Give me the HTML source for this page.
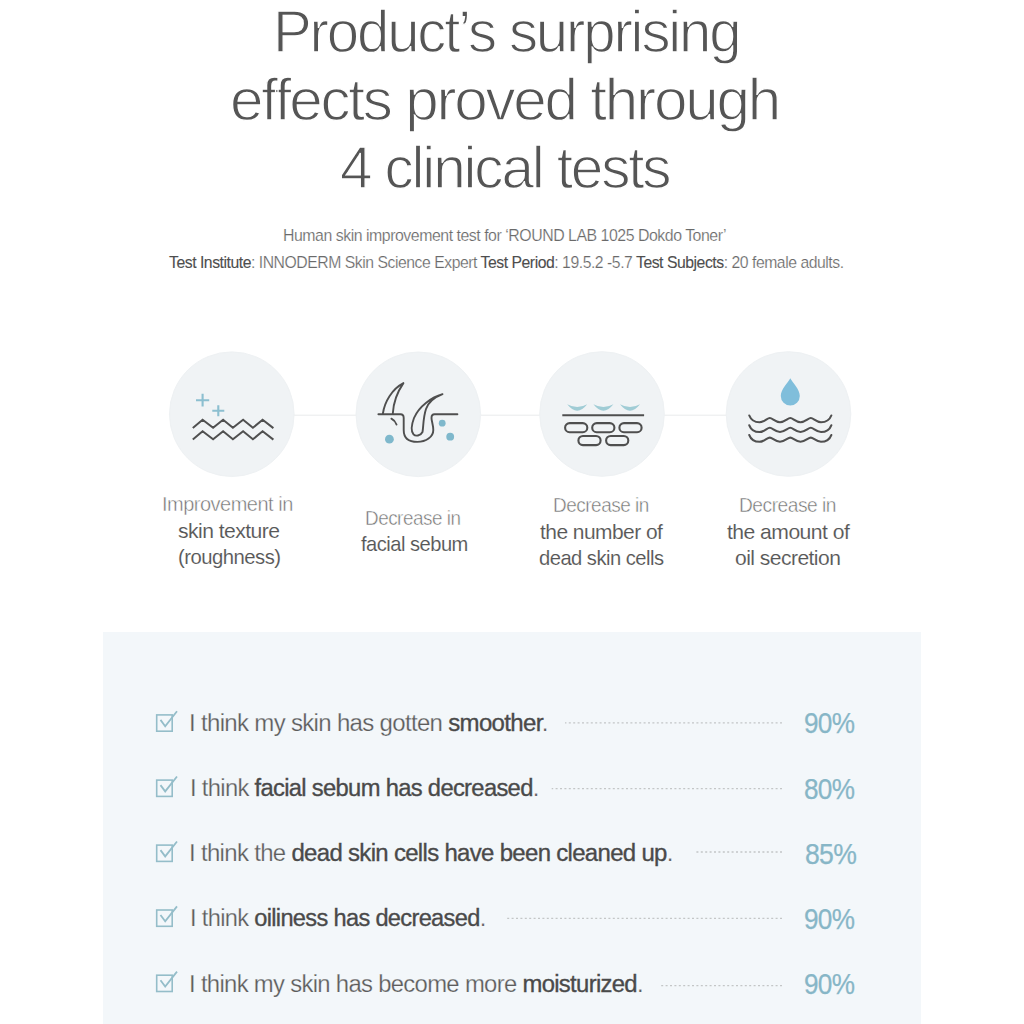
<!DOCTYPE html>
<html><head><meta charset="utf-8"><style>
html,body{margin:0;padding:0;background:#fff;width:1024px;height:1024px;overflow:hidden}
body{position:relative;font-family:"Liberation Sans",sans-serif}
.t{position:absolute;white-space:nowrap;line-height:1.15;transform-origin:0 0}
.t b{font-weight:400;color:#4a4a4a;-webkit-text-stroke:0.35px #4a4a4a}
.t .sb{color:#4e4e4e;-webkit-text-stroke:0.1px #4e4e4e}
.bl{display:inline-block;width:0;height:0;vertical-align:baseline}
.panel{position:absolute;left:103px;top:632px;width:818px;height:392px;background:#f3f7fa}
</style></head><body>
<div class=panel></div>
<svg class="icon" width="1024" height="1024" viewBox="0 0 1024 1024" style="position:absolute;left:0;top:0">
<line x1="293" y1="415.2" x2="727" y2="415.2" stroke="#e9ebec" stroke-width="1"/>
<g fill="#f0f3f5" stroke="#eef1f3" stroke-width="1">
<circle cx="231.8" cy="414.2" r="62.3"/>
<circle cx="418.3" cy="414.3" r="62.3"/>
<circle cx="602" cy="414" r="62.3"/>
<circle cx="788.5" cy="414" r="62.3"/>
</g>
<g fill="none" stroke="#8cbfd0" stroke-width="2.1" stroke-linecap="butt">
<path d="M196,400.2H209.2M202.6,393.8V406.6"/>
<path d="M212.3,410.7H224.3M218.3,405.2V416.2"/>
</g>
<g fill="none" stroke="#505050" stroke-width="2" stroke-linejoin="miter" stroke-linecap="butt">
<path d="M192.8,428.1L202.6,419.8L213.1,427.8L223.1,419.8L232.9,427.8L243.1,419.8L252.9,427.8L262.6,419.8L273.4,428.1"/>
<path d="M192.8,439.6L202.6,431.3L213.1,439.3L223.1,431.3L232.9,439.3L243.1,431.3L252.9,439.3L262.6,431.3L273.4,439.6"/>
</g>
<g fill="none" stroke="#4f4f4f" stroke-width="1.9" stroke-linejoin="round" stroke-linecap="round">
<path d="M378.4,414.3L400.5,414.3C402.8,414.3 403.7,415.8 403.7,418L403.7,430C403.7,437 407.5,441.9 417.3,441.9C426,441.9 433.3,437 433.3,430C433.3,425 431.5,421 431.5,418C431.5,415.5 432.5,414.3 434.5,414.3L457.4,414.3"/>
<path d="M382.9,413.5C384.5,402 392,389 403.4,383.1C398,391 393.5,401 392.8,413.5"/>
<path d="M391.4,418.7Q395,420.5 396.5,424.5"/>
<path d="M442.5,394.2C432,397 419,406 414,418C411,426 411.5,432 413.5,434.3C415.5,436.5 420.5,436 422.5,432C423.5,427 423,418 426,409C428.5,402 434,397.5 442.5,394.2Z"/>
</g>
<g fill="#7fb8cc">
<circle cx="389.4" cy="439.2" r="4.4"/>
<circle cx="442.2" cy="423.2" r="3.4"/>
<circle cx="450.2" cy="436.7" r="3.9"/>
</g>
<g fill="#a0ccd5">
<path d="M567.2,404.3Q577.2,409.9 587.2,404.3Q577.2,417.2 567.2,404.3Z"/>
<path d="M593.4,404.3Q603.4,409.9 613.4,404.3Q603.4,417.2 593.4,404.3Z"/>
<path d="M620,404.3Q630,409.9 640,404.3Q630,417.2 620,404.3Z"/>
</g>
<g fill="none" stroke="#4f4f4f" stroke-width="2.1">
<line x1="562.3" y1="415.2" x2="644.1" y2="415.2"/>
<rect x="565.1" y="423.1" width="22.2" height="9.1" rx="4.55"/>
<rect x="592.2" y="423.1" width="22.2" height="9.1" rx="4.55"/>
<rect x="619.4" y="423.1" width="22.2" height="9.1" rx="4.55"/>
<rect x="578.4" y="436" width="22.2" height="9.1" rx="4.55"/>
<rect x="606.1" y="436" width="22.2" height="9.1" rx="4.55"/>
</g>
<path fill="#80bedb" d="M790.3,378.3C788,383 780.8,389 780.8,396.1A9.5,9.5 0 0 0 799.8,396.1C799.8,389 792.6,383 790.3,378.3Z"/>
<g fill="none" stroke="#505050" stroke-width="2.1" stroke-linecap="round">
<path d="M749.3,415.5C750.8,419.5 754.5,422.2 759.5,422.2C764.3,422.2 767.2,418.0 769.8,418.0C772.4,418.0 775.2,422.2 780.0,422.2C784.8,422.2 787.7,418.0 790.3,418.0C792.9,418.0 795.7,422.2 800.5,422.2C805.3,422.2 808.2,418.0 810.8,418.0C813.4,418.0 816.2,422.2 821.0,422.2C826.0,422.2 829.8,419.5 831.3,415.5"/>
<path d="M749.3,425.3C750.8,429.3 754.5,432.0 759.5,432.0C764.3,432.0 767.2,427.8 769.8,427.8C772.4,427.8 775.2,432.0 780.0,432.0C784.8,432.0 787.7,427.8 790.3,427.8C792.9,427.8 795.7,432.0 800.5,432.0C805.3,432.0 808.2,427.8 810.8,427.8C813.4,427.8 816.2,432.0 821.0,432.0C826.0,432.0 829.8,429.3 831.3,425.3"/>
<path d="M749.3,435.1C750.8,439.1 754.5,441.8 759.5,441.8C764.3,441.8 767.2,437.6 769.8,437.6C772.4,437.6 775.2,441.8 780.0,441.8C784.8,441.8 787.7,437.6 790.3,437.6C792.9,437.6 795.7,441.8 800.5,441.8C805.3,441.8 808.2,437.6 810.8,437.6C813.4,437.6 816.2,441.8 821.0,441.8C826.0,441.8 829.8,439.1 831.3,435.1"/>
</g>
<!--rows--><g fill="none" stroke="#94bdc9" stroke-width="1.6">
<rect x="156.7" y="714.9" width="15.5" height="16.3"/>
<path d="M160.5,719.9L165.2,726.2L177,711.3" stroke-width="1.8"/>
<rect x="156.7" y="780.1" width="15.5" height="16.3"/>
<path d="M160.5,785.1L165.2,791.4L177,776.5" stroke-width="1.8"/>
<rect x="156.7" y="845.1" width="15.5" height="16.3"/>
<path d="M160.5,850.1L165.2,856.4L177,841.5" stroke-width="1.8"/>
<rect x="156.7" y="910.0" width="15.5" height="16.3"/>
<path d="M160.5,915.0L165.2,921.3L177,906.4" stroke-width="1.8"/>
<rect x="156.7" y="975.2" width="15.5" height="16.3"/>
<path d="M160.5,980.2L165.2,986.5L177,971.6" stroke-width="1.8"/>
</g>
<g stroke="#c4c6c7" stroke-width="1.3" stroke-dasharray="2 2.4">
<line x1="782" y1="722.9" x2="565" y2="722.9"/>
<line x1="782" y1="788.7" x2="551.7" y2="788.7"/>
<line x1="782" y1="852.0" x2="696" y2="852.0"/>
<line x1="782" y1="918.4" x2="507" y2="918.4"/>
<line x1="782" y1="985.6" x2="658.8" y2="985.6"/>
</g>
<!--/rows-->
</svg>

<div class=t id=t1 style="left:273.08px;top:-2.00px;font-size:59.6px;color:#555;letter-spacing:-2.2px;transform:scaleX(0.9753);-webkit-text-stroke:1.3px #ffffff;">Product’s surprising<i class=bl></i></div><div class=t id=t2 style="left:229.83px;top:65.50px;font-size:59.6px;color:#555;letter-spacing:-2.2px;transform:scaleX(1.0099);-webkit-text-stroke:1.3px #ffffff;">effects proved through<i class=bl></i></div><div class=t id=t3 style="left:339.91px;top:134.00px;font-size:59.6px;color:#555;letter-spacing:-2.2px;transform:scaleX(0.9811);-webkit-text-stroke:1.3px #ffffff;">4 clinical tests<i class=bl></i></div><div class=t id=s1 style="left:283.02px;top:226.00px;font-size:17px;color:#6a6a6a;letter-spacing:-0.5px;transform:scaleX(0.9332);-webkit-text-stroke:0.2px #ffffff;">Human skin improvement test for ‘ROUND LAB 1025 Dokdo Toner’<i class=bl></i></div><div class=t id=s2 style="left:169.00px;top:252.71px;font-size:17px;color:#6a6a6a;letter-spacing:-0.5px;transform:scaleX(0.9267);-webkit-text-stroke:0.2px #ffffff;"><span class=sb>Test Institute</span>: INNODERM Skin Science Expert <span class=sb>Test Period</span>: 19.5.2 -5.7 <span class=sb>Test Subjects</span>: 20 female adults.<i class=bl></i></div><div class=t id=c1a style="left:162.34px;top:493.31px;font-size:19.8px;color:#747474;letter-spacing:-0.5px;transform:scaleX(1.0111);-webkit-text-stroke:0.45px #ffffff;">Improvement in<i class=bl></i></div><div class=t id=c1b style="left:177.81px;top:520.00px;font-size:19.8px;color:#575757;letter-spacing:-0.5px;transform:scaleX(1.0667);-webkit-text-stroke:0.1px #ffffff;">skin texture<i class=bl></i></div><div class=t id=c1c style="left:177.87px;top:546.00px;font-size:19.8px;color:#575757;letter-spacing:-0.5px;transform:scaleX(1.0253);-webkit-text-stroke:0.1px #ffffff;">(roughness)<i class=bl></i></div><div class=t id=c2a style="left:365.41px;top:507.00px;font-size:19.8px;color:#747474;letter-spacing:-0.5px;transform:scaleX(0.9537);-webkit-text-stroke:0.45px #ffffff;">Decrease in<i class=bl></i></div><div class=t id=c2b style="left:361.00px;top:533.00px;font-size:19.8px;color:#575757;letter-spacing:-0.5px;transform:scaleX(1.0167);-webkit-text-stroke:0.1px #ffffff;">facial sebum<i class=bl></i></div><div class=t id=c3a style="left:552.95px;top:494.31px;font-size:19.8px;color:#747474;letter-spacing:-0.5px;transform:scaleX(0.9576);-webkit-text-stroke:0.45px #ffffff;">Decrease in<i class=bl></i></div><div class=t id=c3b style="left:540.00px;top:521.00px;font-size:19.8px;color:#575757;letter-spacing:-0.5px;transform:scaleX(1.0592);-webkit-text-stroke:0.1px #ffffff;">the number of<i class=bl></i></div><div class=t id=c3c style="left:538.87px;top:547.41px;font-size:19.8px;color:#575757;letter-spacing:-0.5px;transform:scaleX(1.0181);-webkit-text-stroke:0.1px #ffffff;">dead skin cells<i class=bl></i></div><div class=t id=c4a style="left:739.42px;top:494.31px;font-size:19.8px;color:#747474;letter-spacing:-0.5px;transform:scaleX(0.9700);-webkit-text-stroke:0.45px #ffffff;">Decrease in<i class=bl></i></div><div class=t id=c4b style="left:727.47px;top:521.00px;font-size:19.8px;color:#575757;letter-spacing:-0.5px;transform:scaleX(1.0683);-webkit-text-stroke:0.1px #ffffff;">the amount of<i class=bl></i></div><div class=t id=c4c style="left:734.89px;top:547.41px;font-size:19.8px;color:#575757;letter-spacing:-0.5px;transform:scaleX(1.0635);-webkit-text-stroke:0.1px #ffffff;">oil secretion<i class=bl></i></div><div class=t id=r1 style="left:189.47px;top:709.21px;font-size:24.7px;color:#5c5c5c;letter-spacing:-0.7px;transform:scaleX(0.9729);-webkit-text-stroke:0.25px #f3f7fa;">I think my skin has gotten <b>smoother</b>.<i class=bl></i></div><div class=t id=r2 style="left:189.51px;top:774.41px;font-size:24.7px;color:#5c5c5c;letter-spacing:-0.7px;transform:scaleX(0.9617);-webkit-text-stroke:0.25px #f3f7fa;">I think <b>facial sebum has decreased</b>.<i class=bl></i></div><div class=t id=r3 style="left:189.45px;top:839.41px;font-size:24.7px;color:#5c5c5c;letter-spacing:-0.7px;transform:scaleX(0.9709);-webkit-text-stroke:0.25px #f3f7fa;">I think the <b>dead skin cells have been cleaned up</b>.<i class=bl></i></div><div class=t id=r4 style="left:189.51px;top:904.31px;font-size:24.7px;color:#5c5c5c;letter-spacing:-0.7px;transform:scaleX(0.9563);-webkit-text-stroke:0.25px #f3f7fa;">I think <b>oiliness has decreased</b>.<i class=bl></i></div><div class=t id=r5 style="left:189.45px;top:969.50px;font-size:24.7px;color:#5c5c5c;letter-spacing:-0.7px;transform:scaleX(0.9657);-webkit-text-stroke:0.25px #f3f7fa;">I think my skin has become more <b>moisturized</b>.<i class=bl></i></div><div class=t id=p1 style="left:804.10px;top:706.00px;font-size:29.8px;color:#87b6c7;letter-spacing:-0.8px;transform:scaleX(0.8782);-webkit-text-stroke:0.25px #87b6c7;">90%<i class=bl></i></div><div class=t id=p2 style="left:804.10px;top:771.50px;font-size:29.8px;color:#87b6c7;letter-spacing:-0.8px;transform:scaleX(0.8782);-webkit-text-stroke:0.25px #87b6c7;">80%<i class=bl></i></div><div class=t id=p3 style="left:804.52px;top:837.00px;font-size:29.8px;color:#87b6c7;letter-spacing:-0.8px;transform:scaleX(0.8927);-webkit-text-stroke:0.25px #87b6c7;">85%<i class=bl></i></div><div class=t id=p4 style="left:804.10px;top:902.00px;font-size:29.8px;color:#87b6c7;letter-spacing:-0.8px;transform:scaleX(0.8782);-webkit-text-stroke:0.25px #87b6c7;">90%<i class=bl></i></div><div class=t id=p5 style="left:804.10px;top:967.00px;font-size:29.8px;color:#87b6c7;letter-spacing:-0.8px;transform:scaleX(0.8782);-webkit-text-stroke:0.25px #87b6c7;">90%<i class=bl></i></div>
</body></html>
